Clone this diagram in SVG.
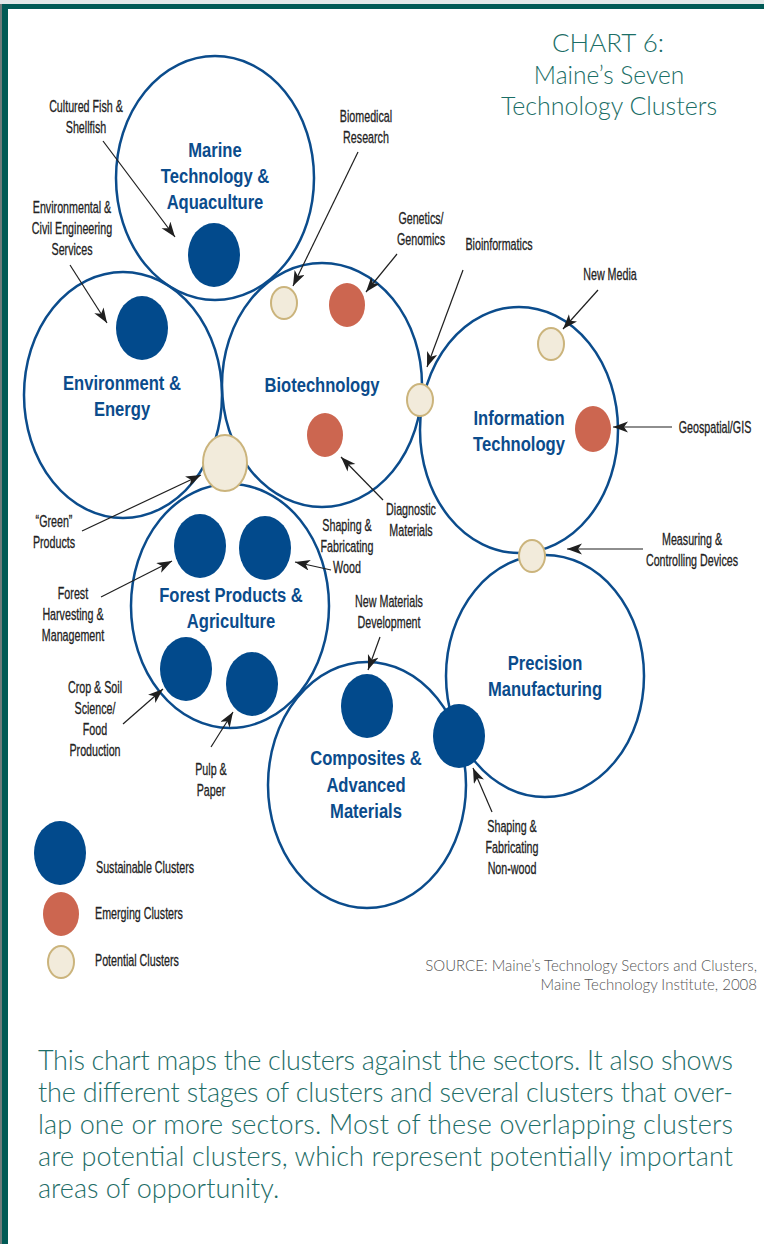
<svg xmlns="http://www.w3.org/2000/svg" width="764" height="1244" viewBox="0 0 764 1244">
<defs>
<marker id="ah" markerUnits="userSpaceOnUse" markerWidth="16" markerHeight="12" refX="15" refY="5.5" orient="auto">
<path d="M0,0 L15,5.5 L0,11 L4,5.5 z" fill="#1f1f1f"/>
</marker>
</defs>
<style>
.sector{fill:none;stroke:#0b4c8c;stroke-width:2.5}
.sus{fill:#024a8c}
.emg{fill:#cc6650}
.pot{fill:#f2ebdb;stroke:#cbb47c;stroke-width:2}
.lbl{font-family:"Liberation Sans",Arial,sans-serif;font-size:17px;fill:#222;stroke:#222;stroke-width:0.3}
.ttl{font-family:"Liberation Sans",Arial,sans-serif;font-size:21px;font-weight:bold;fill:#0b4c8c}
.conn line{stroke:#1f1f1f;stroke-width:1.2;marker-end:url(#ah)}
.head{font-family:Lato,"Open Sans",sans-serif;font-weight:300;fill:#1b6e66}
.src{font-family:Lato,"Open Sans",sans-serif;font-weight:300;font-size:15px;fill:#555}
.para{font-family:Lato,"Open Sans",sans-serif;font-weight:300;font-size:27px;fill:#1f6e68}
</style>
<rect x="0" y="0" width="764" height="1244" fill="#ffffff"/>
<rect x="0" y="0" width="764" height="4" fill="#e2e8e8"/>
<rect x="0" y="4" width="764" height="5" fill="#005a55"/>
<rect x="0" y="4" width="2" height="1240" fill="#6e7b7a"/>
<rect x="2" y="4" width="6" height="1240" fill="#005a55"/>

<g id="title">
<text class="head" x="608" y="52" text-anchor="middle" font-size="26" fill="#0f5b55">CHART 6:</text>
<text class="head" x="609" y="84" text-anchor="middle" font-size="24.5">Maine’s Seven</text>
<text class="head" x="609" y="115" text-anchor="middle" font-size="25">Technology Clusters</text>
</g>

<g id="sector-marine">
<ellipse class="sector" cx="215" cy="178" rx="99" ry="122"/>
<text class="ttl" transform="translate(215 157) scale(0.79 1)" text-anchor="middle"><tspan x="0" y="0">Marine</tspan><tspan x="0" y="26">Technology &amp;</tspan><tspan x="0" y="52">Aquaculture</tspan></text>
</g>
<g id="sector-environment">
<ellipse class="sector" cx="123" cy="395" rx="99" ry="123"/>
<text class="ttl" transform="translate(122 390) scale(0.79 1)" text-anchor="middle"><tspan x="0" y="0">Environment &amp;</tspan><tspan x="0" y="26">Energy</tspan></text>
</g>
<g id="sector-biotech">
<ellipse class="sector" cx="322" cy="385" rx="100" ry="122"/>
<text class="ttl" transform="translate(322 392) scale(0.79 1)" text-anchor="middle">Biotechnology</text>
</g>
<g id="sector-it">
<ellipse class="sector" cx="519" cy="430" rx="99" ry="123"/>
<text class="ttl" transform="translate(519 425) scale(0.79 1)" text-anchor="middle"><tspan x="0" y="0">Information</tspan><tspan x="0" y="26">Technology</tspan></text>
</g>
<g id="sector-forest">
<ellipse class="sector" cx="230" cy="606" rx="99" ry="122"/>
<text class="ttl" transform="translate(231 602) scale(0.79 1)" text-anchor="middle"><tspan x="0" y="0">Forest Products &amp;</tspan><tspan x="0" y="26">Agriculture</tspan></text>
</g>
<g id="sector-composites">
<ellipse class="sector" cx="367" cy="785" rx="99" ry="123"/>
<text class="ttl" transform="translate(366 765) scale(0.79 1)" text-anchor="middle"><tspan x="0" y="0">Composites &amp;</tspan><tspan x="0" y="27">Advanced</tspan><tspan x="0" y="53">Materials</tspan></text>
</g>
<g id="sector-precision">
<ellipse class="sector" cx="545" cy="676" rx="99" ry="121"/>
<text class="ttl" transform="translate(545 670) scale(0.79 1)" text-anchor="middle"><tspan x="0" y="0">Precision</tspan><tspan x="0" y="26">Manufacturing</tspan></text>
</g>

<g id="clusters">
<ellipse id="c-fish" class="sus" cx="214" cy="255" rx="26" ry="32"/>
<ellipse id="c-envcivil" class="sus" cx="142" cy="328" rx="26" ry="32"/>
<ellipse id="c-biomed" class="pot" cx="284" cy="303" rx="13" ry="16"/>
<ellipse id="c-genetics" class="emg" cx="347" cy="305" rx="18" ry="22"/>
<ellipse id="c-bioinfo" class="pot" cx="420" cy="400" rx="13" ry="16"/>
<ellipse id="c-diag" class="emg" cx="325" cy="435" rx="18" ry="22"/>
<ellipse id="c-newmedia" class="pot" cx="551" cy="344" rx="13" ry="16"/>
<ellipse id="c-gis" class="emg" cx="593" cy="429" rx="18" ry="23"/>
<ellipse id="c-measuring" class="pot" cx="532" cy="556" rx="13" ry="16"/>
<ellipse id="c-green" class="pot" cx="225" cy="463" rx="22" ry="28"/>
<ellipse id="c-forest" class="sus" cx="200" cy="546" rx="26" ry="32"/>
<ellipse id="c-wood" class="sus" cx="265" cy="548" rx="26" ry="32"/>
<ellipse id="c-crop" class="sus" cx="186" cy="669" rx="26" ry="32"/>
<ellipse id="c-pulp" class="sus" cx="252" cy="684" rx="26" ry="32"/>
<ellipse id="c-newmat" class="sus" cx="367" cy="706" rx="26" ry="32"/>
<ellipse id="c-nonwood" class="sus" cx="459" cy="736" rx="26" ry="32"/>
</g>

<g id="connectors" class="conn">
<line x1="103" y1="141" x2="175" y2="237"/>
<line x1="70" y1="265" x2="107" y2="323"/>
<line x1="358" y1="152" x2="293" y2="286"/>
<line x1="397" y1="254" x2="366" y2="292"/>
<line x1="463" y1="270" x2="427" y2="367"/>
<line x1="598" y1="290" x2="563" y2="329"/>
<line x1="672" y1="427" x2="613" y2="427"/>
<line x1="643" y1="549" x2="567" y2="549"/>
<line x1="383" y1="500" x2="341" y2="457"/>
<line x1="82" y1="531" x2="201" y2="475"/>
<line x1="101" y1="597" x2="172" y2="561"/>
<line x1="331" y1="570" x2="295" y2="562"/>
<line x1="380" y1="637" x2="368" y2="670"/>
<line x1="123" y1="724" x2="163" y2="689"/>
<line x1="211" y1="747" x2="233" y2="712"/>
<line x1="492" y1="812" x2="473" y2="768"/>
</g>

<g id="labels">
<text class="lbl" transform="translate(86 112) scale(0.63 1)" text-anchor="middle"><tspan x="0" y="0">Cultured Fish &amp;</tspan><tspan x="0" y="21">Shellfish</tspan></text>
<text class="lbl" transform="translate(72 213) scale(0.63 1)" text-anchor="middle"><tspan x="0" y="0">Environmental &amp;</tspan><tspan x="0" y="21">Civil Engineering</tspan><tspan x="0" y="42">Services</tspan></text>
<text class="lbl" transform="translate(366 122) scale(0.63 1)" text-anchor="middle"><tspan x="0" y="0">Biomedical</tspan><tspan x="0" y="21">Research</tspan></text>
<text class="lbl" transform="translate(421 224) scale(0.63 1)" text-anchor="middle"><tspan x="0" y="0">Genetics/</tspan><tspan x="0" y="21">Genomics</tspan></text>
<text class="lbl" transform="translate(499 250) scale(0.63 1)" text-anchor="middle">Bioinformatics</text>
<text class="lbl" transform="translate(610 280) scale(0.63 1)" text-anchor="middle">New Media</text>
<text class="lbl" transform="translate(715 433) scale(0.63 1)" text-anchor="middle">Geospatial/GIS</text>
<text class="lbl" transform="translate(692 545) scale(0.63 1)" text-anchor="middle"><tspan x="0" y="0">Measuring &amp;</tspan><tspan x="0" y="21">Controlling Devices</tspan></text>
<text class="lbl" transform="translate(411 515) scale(0.63 1)" text-anchor="middle"><tspan x="0" y="0">Diagnostic</tspan><tspan x="0" y="21">Materials</tspan></text>
<text class="lbl" transform="translate(54 527) scale(0.63 1)" text-anchor="middle"><tspan x="0" y="0">“Green”</tspan><tspan x="0" y="21">Products</tspan></text>
<text class="lbl" transform="translate(73 599) scale(0.63 1)" text-anchor="middle"><tspan x="0" y="0">Forest</tspan><tspan x="0" y="21">Harvesting &amp;</tspan><tspan x="0" y="42">Management</tspan></text>
<text class="lbl" transform="translate(347 531) scale(0.63 1)" text-anchor="middle"><tspan x="0" y="0">Shaping &amp;</tspan><tspan x="0" y="21">Fabricating</tspan><tspan x="0" y="42">Wood</tspan></text>
<text class="lbl" transform="translate(389 607) scale(0.63 1)" text-anchor="middle"><tspan x="0" y="0">New Materials</tspan><tspan x="0" y="21">Development</tspan></text>
<text class="lbl" transform="translate(95 693) scale(0.63 1)" text-anchor="middle"><tspan x="0" y="0">Crop &amp; Soil</tspan><tspan x="0" y="21">Science/</tspan><tspan x="0" y="42">Food</tspan><tspan x="0" y="63">Production</tspan></text>
<text class="lbl" transform="translate(211 775) scale(0.63 1)" text-anchor="middle"><tspan x="0" y="0">Pulp &amp;</tspan><tspan x="0" y="21">Paper</tspan></text>
<text class="lbl" transform="translate(512 832) scale(0.63 1)" text-anchor="middle"><tspan x="0" y="0">Shaping &amp;</tspan><tspan x="0" y="21">Fabricating</tspan><tspan x="0" y="42">Non-wood</tspan></text>
</g>

<g id="legend">
<ellipse class="sus" cx="60" cy="853" rx="26" ry="32"/>
<ellipse class="emg" cx="61" cy="914" rx="18" ry="22"/>
<ellipse class="pot" cx="61" cy="962" rx="13" ry="16"/>
<text class="lbl" transform="translate(96 873) scale(0.63 1)">Sustainable Clusters</text>
<text class="lbl" transform="translate(95 919) scale(0.63 1)">Emerging Clusters</text>
<text class="lbl" transform="translate(95 966) scale(0.63 1)">Potential Clusters</text>
</g>

<g id="source">
<text class="src" x="757" y="971" text-anchor="end">SOURCE: Maine’s Technology Sectors and Clusters,</text>
<text class="src" x="757" y="990" text-anchor="end">Maine Technology Institute, 2008</text>
</g>

<g id="caption">
<text class="para" x="38" y="1070" textLength="695" lengthAdjust="spacing">This chart maps the clusters against the sectors. It also shows</text>
<text class="para" x="38" y="1102" textLength="695" lengthAdjust="spacing">the different stages of clusters and several clusters that over-</text>
<text class="para" x="38" y="1134" textLength="695" lengthAdjust="spacing">lap one or more sectors. Most of these overlapping clusters</text>
<text class="para" x="38" y="1166" textLength="695" lengthAdjust="spacing">are potential clusters, which represent potentially important</text>
<text class="para" x="38" y="1198">areas of opportunity.</text>
</g>
</svg>
